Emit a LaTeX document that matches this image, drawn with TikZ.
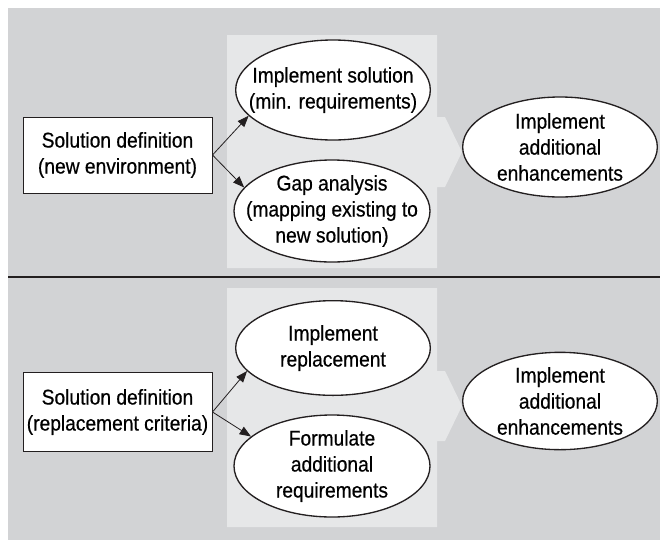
\documentclass[tikz,border=0pt]{standalone}
\usepackage{fontspec}
\setmainfont{Liberation Sans}[FakeBold=0.5, FakeStretch=0.9]
\usetikzlibrary{shapes.geometric,arrows.meta}

\definecolor{PhaseGray}{HTML}{D2D3D5}
\definecolor{PhaseLight}{HTML}{E6E7E8}
\definecolor{FlowInk}{HTML}{231F20}
\tikzstyle{def-box}=[rectangle, draw=FlowInk, line width=0.75pt, fill=white, inner sep=0pt, align=center, font=\fontsize{16}{19.5}\selectfont]
\tikzstyle{task-oval}=[ellipse, draw=FlowInk, line width=1pt, fill=white, inner sep=-22pt, align=center, font=\fontsize{16}{19.5}\selectfont]
\tikzstyle{flow-arrow}=[draw=FlowInk, line width=0.6pt, -{Triangle[length=8.5pt, width=6.5pt]}]

\begin{document}
\begin{tikzpicture}[x=0.75pt, y=-0.75pt]
      \useasboundingbox (0,0) rectangle (660,540);
      \fill[PhaseGray] (8,8) rectangle (660,540);
      \fill[PhaseLight] (227,35) -- (437,35) -- (437,117) -- (445,117) -- (462,152) -- (445,187) -- (437,187) -- (437,268) -- (227,268) -- cycle;
      \fill[PhaseLight] (227,288) -- (437,288) -- (437,371) -- (445,371) -- (462,406) -- (445,441) -- (437,441) -- (437,527) -- (227,527) -- cycle;
      \draw[FlowInk, line width=1.1pt] (8,277) -- (660,277);

      \node (def-new) at (117.5,155) [def-box, minimum width=141.75pt, minimum height=57pt] {Solution definition\\(new environment)};
      \node (task-impl) at (333,90) [task-oval, minimum width=146pt, minimum height=75pt] {Implement solution\\(min. requirements)};
      \node (task-gap) at (332,211) [task-oval, minimum width=147pt, minimum height=76.5pt] {Gap analysis\\(mapping existing to\\new solution)};
      \node (task-enh-new) at (560,147) [task-oval, minimum width=146pt, minimum height=75pt] {Implement\\additional\\enhancements};

      \node (def-repl) at (117.5,412) [def-box, minimum width=141.75pt, minimum height=59pt] {Solution definition\\(replacement criteria)};
      \node (task-repl) at (333,348) [task-oval, minimum width=146pt, minimum height=71pt] {Implement\\replacement};
      \node (task-form) at (332,466) [task-oval, minimum width=147pt, minimum height=76.5pt] {Formulate\\additional\\requirements};
      \node (task-enh-repl) at (560,401) [task-oval, minimum width=146pt, minimum height=73pt] {Implement\\additional\\enhancements};

      \draw[flow-arrow] (def-new.east) -- (task-impl.197);
      \draw[flow-arrow] (def-new.east) -- (task-gap.165);
      \draw[flow-arrow] (def-repl.east) -- (task-repl.195);
      \draw[flow-arrow] (def-repl.east) -- (task-form.160);
    \end{tikzpicture}
\end{document}
